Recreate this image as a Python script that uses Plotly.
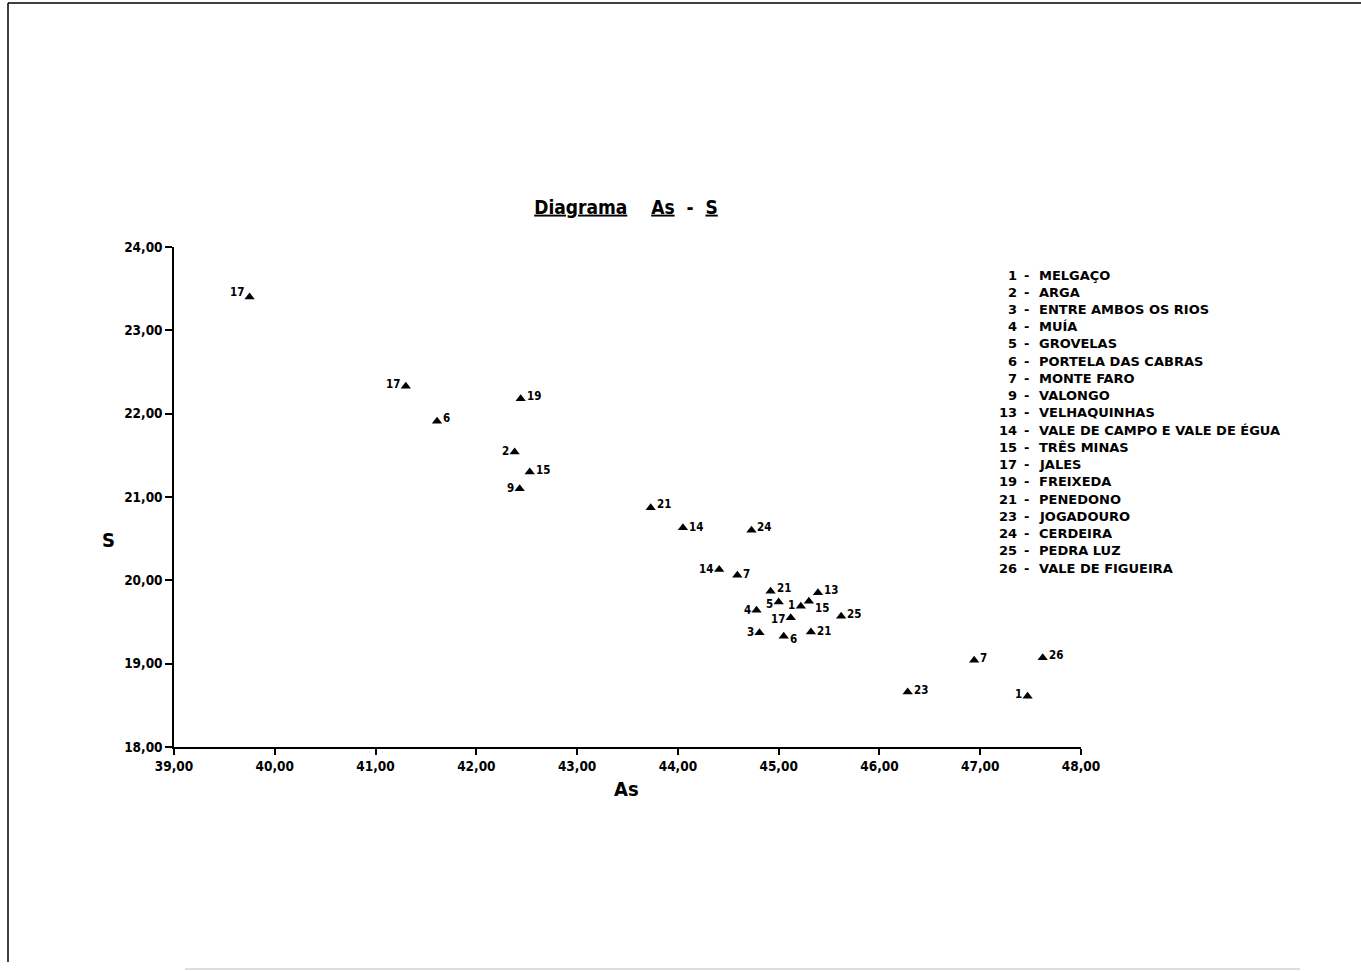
import plotly.graph_objects as go

# ---- data ----
as_values = [39.75, 41.30, 41.61, 42.44, 42.38, 42.53, 42.43, 43.73, 44.05, 44.73,
             44.41, 44.59, 44.92, 45.00, 44.78, 45.22, 45.30, 45.39, 45.62, 45.12,
             44.81, 45.05, 45.32, 46.94, 47.62, 46.28, 47.47]
s_values = [23.40, 22.33, 21.91, 22.18, 21.54, 21.30, 21.10, 20.87, 20.63, 20.60,
            20.13, 20.06, 19.87, 19.74, 19.64, 19.69, 19.75, 19.85, 19.57, 19.55,
            19.37, 19.33, 19.38, 19.04, 19.07, 18.66, 18.61]
point_labels = ["17", "17", "6", "19", "2", "15", "9", "21", "14", "24",
                "14", "7", "21", "5", "4", "1", "15", "13", "25", "17",
                "3", "6", "21", "7", "26", "23", "1"]
legend_numbers = ["1", "2", "3", "4", "5", "6", "7", "9", "13", "14", "15", "17",
                  "19", "21", "23", "24", "25", "26"]
legend_names = ["MELGAÇO", "ARGA", "ENTRE AMBOS OS RIOS", "MUÍA", "GROVELAS",
                "PORTELA DAS CABRAS", "MONTE FARO", "VALONGO", "VELHAQUINHAS",
                "VALE DE CAMPO E VALE DE ÉGUA", "TRÊS MINAS", "JALES", "FREIXEDA",
                "PENEDONO", "JOGADOURO", "CERDEIRA", "PEDRA LUZ", "VALE DE FIGUEIRA"]
x_ticks = [39, 40, 41, 42, 43, 44, 45, 46, 47, 48]
y_ticks = [18, 19, 20, 21, 22, 23, 24]

# ---- style: label side (L/R) and vertical nudge in px for each point label ----
label_side = ["L", "L", "R", "R", "L", "R", "L", "R", "R", "R",
              "L", "R", "R", "L", "L", "L", "R", "R", "R", "L",
              "L", "R", "R", "R", "R", "R", "L"]
label_dy = [5, 2, 3, 3, 1, 2, 1, 4, 1, 3,
            1, 1, 3, -2, 0, 1, -7, 3, 2, -1,
            1, -3, 1, 2, 3, 2, 2]

FONT = "DejaVu Sans Condensed, Liberation Sans Narrow, DejaVu Sans, sans-serif"
FONT_WIDE = "DejaVu Sans, sans-serif"
W, H = 1361, 972
L, R, T, B = 174, 280, 247, 225
PW, PH = W - L - R, H - T - B


def px_to_paper_x(px):
    return (px - L) / PW


def px_to_paper_y(py):
    return (H - B - py) / PH


fig = go.Figure()
fig.add_trace(go.Scatter(
    x=as_values, y=s_values, mode="markers",
    marker=dict(symbol="triangle-up", size=9, color="black", line=dict(width=0)),
    cliponaxis=False, showlegend=False, text=point_labels, hoverinfo="x+y+text",
))

axis_common = dict(
    showgrid=False, zeroline=False, showline=True, linecolor="black", linewidth=1.5,
    ticks="outside", tickcolor="black", tickwidth=1.5,
    tickfont=dict(family=FONT, size=13.5, color="black", weight="bold"),
    tickformat=".2f", mirror=False,
)
fig.update_xaxes(range=[39, 48], tickvals=x_ticks, ticklen=6, **axis_common)
fig.update_yaxes(range=[18, 24], tickvals=y_ticks, ticklen=7, **axis_common)

annotations = []
label_font = dict(family=FONT, size=11.5, color="black", weight="bold")
for xv, yv, lab, side, dy in zip(as_values, s_values, point_labels, label_side, label_dy):
    annotations.append(dict(
        text=lab, x=xv, y=yv, xref="x", yref="y", showarrow=False,
        xanchor="right" if side == "L" else "left", yanchor="middle",
        xshift=-4 if side == "L" else 4, yshift=dy, font=label_font,
    ))

annotations += [
    dict(text="As", x=px_to_paper_x(626), y=px_to_paper_y(789), xref="paper", yref="paper",
         showarrow=False, font=dict(family=FONT, size=20, color="black", weight="bold"),
         xanchor="center", yanchor="middle"),
    dict(text="S", x=px_to_paper_x(108), y=px_to_paper_y(540), xref="paper", yref="paper",
         showarrow=False, font=dict(family=FONT, size=20, color="black", weight="bold"),
         xanchor="center", yanchor="middle"),
]

legend_font = dict(family=FONT_WIDE, size=13, color="black", weight="bold")
first_line_y, line_step = 275, (568 - 275) / (len(legend_numbers) - 1)
for i, (num, name) in enumerate(zip(legend_numbers, legend_names)):
    yp = px_to_paper_y(first_line_y + i * line_step)
    annotations.append(dict(text=num, x=px_to_paper_x(1019), y=yp, xref="paper", yref="paper",
                            showarrow=False, xanchor="right", yanchor="middle", font=legend_font))
    annotations.append(dict(text="-", x=px_to_paper_x(1026), y=yp, xref="paper", yref="paper",
                            showarrow=False, xanchor="center", yanchor="middle", font=legend_font))
    annotations.append(dict(text=name, x=px_to_paper_x(1037), y=yp, xref="paper", yref="paper",
                            showarrow=False, xanchor="left", yanchor="middle", font=legend_font))

shapes = [
    dict(type="line", xref="paper", yref="paper", x0=px_to_paper_x(8), x1=px_to_paper_x(1361),
         y0=px_to_paper_y(3), y1=px_to_paper_y(3), line=dict(color="black", width=1.5)),
    dict(type="line", xref="paper", yref="paper", x0=px_to_paper_x(8), x1=px_to_paper_x(8),
         y0=px_to_paper_y(3), y1=px_to_paper_y(962), line=dict(color="black", width=1.5)),
    dict(type="line", xref="paper", yref="paper", x0=px_to_paper_x(185), x1=px_to_paper_x(1300),
         y0=px_to_paper_y(969), y1=px_to_paper_y(969), line=dict(color="#bbbbbb", width=1)),
]

fig.update_layout(
    width=W, height=H, autosize=False,
    margin=dict(l=L, r=R, t=T, b=B, pad=0),
    paper_bgcolor="white", plot_bgcolor="white",
    separators=",.",
    title=dict(text="<u>Diagrama</u>&nbsp;&nbsp;&nbsp;&nbsp;<u>As</u>&nbsp;&nbsp;-&nbsp;&nbsp;<u>S</u>",
               x=px_to_paper_x(626), xref="paper",
               xanchor="center", y=1 - 207 / H, yref="container", yanchor="middle",
               font=dict(family=FONT, size=19, color="black", weight="bold")),
    annotations=annotations, shapes=shapes,
    font=dict(family=FONT, color="black"),
)

fig.write_html("out.html", config={"displayModeBar": False},
               post_script="document.body.style.margin='0px';document.body.style.overflow='hidden';")
